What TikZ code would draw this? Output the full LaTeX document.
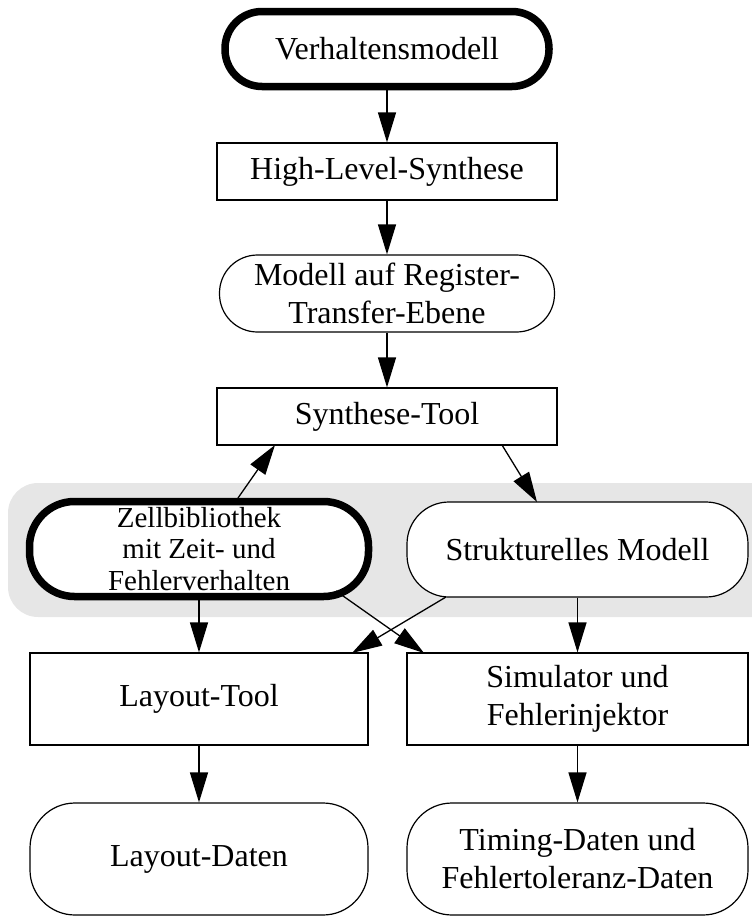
\documentclass[tikz,border=0pt]{standalone}
\usepackage{fontspec}
\setmainfont{Liberation Serif}
\usetikzlibrary{arrows.meta,calc}
\definecolor{bggray}{HTML}{E6E6E6}
\tikzset{
  base/.style={draw=black, fill=white, align=center, inner sep=0pt, font=\fontsize{32}{38}\selectfont},
  boxnode/.style={base, line width=1.2pt},
  term/.style={base, line width=1.2pt, rounded corners=#1},
  thickterm/.style={base, line width=7.5pt, rounded corners=#1},
  flow/.style={line width=1.3pt, -{Triangle[length=30pt,width=18pt]}}
}
\begin{document}
\begin{tikzpicture}[x=1pt,y=-1pt]
\useasboundingbox (0,0) rectangle (752,916);
\fill[bggray, rounded corners=30pt] (8,483) rectangle (785,617);

\node[thickterm=37pt, minimum width=324pt, minimum height=75pt] (V) at (387,49) {Verhaltensmodell};
\node[boxnode, minimum width=340pt, minimum height=57pt] (HLS) at (387,171.5) {High-Level-Synthese};
\node[term=38pt, minimum width=335pt, minimum height=77pt] (MRT) at (387,293.5) {Modell auf Register-\\Transfer-Ebene};
\node[boxnode, minimum width=340pt, minimum height=57pt] (ST) at (387,416.5) {Synthese-Tool};

\node[thickterm=45pt, minimum width=339pt, minimum height=95pt, font=\fontsize{29}{31.5}\selectfont] (ZB) at (199,549) {Zellbibliothek\\mit Zeit- und\\Fehlerverhalten};
\node[term=42pt, minimum width=341pt, minimum height=95pt] (SM) at (577.5,549.5) {Strukturelles Modell};

\node[boxnode, minimum width=338pt, minimum height=92pt] (LT) at (199,699) {Layout-Tool};
\node[boxnode, minimum width=341pt, minimum height=92pt] (SF) at (577.5,699) {Simulator und\\Fehlerinjektor};

\node[term=45pt, minimum width=338pt, minimum height=112pt] (LD) at (199,859) {Layout-Daten};
\node[term=45pt, minimum width=341pt, minimum height=112pt] (TD) at (577.5,859) {Timing-Daten und\\Fehlertoleranz-Daten};

\draw[flow] (V) -- (HLS);
\draw[flow] (HLS) -- (MRT);
\draw[flow] (MRT) -- (ST);
\coordinate (zbtop) at (238,498);
\coordinate (sttipl) at (275,445);
\draw[flow] (zbtop) -- (sttipl);
\coordinate (stbotr) at (502,445);
\coordinate (smtop) at (537,502);
\draw[flow] (stbotr) -- (smtop);
\draw[flow] (ZB.south) -- (LT.north);
\coordinate (zbbr) at (336,591);
\coordinate (sftl) at (424,653);
\draw[flow] (zbbr) -- (sftl);
\coordinate (smbl) at (446,597);
\coordinate (lttr) at (352,653);
\draw[flow] (smbl) -- (lttr);
\draw[flow] (SM.south) -- (SF.north);
\draw[flow] (LT) -- (LD);
\draw[flow] (SF) -- (TD);
\end{tikzpicture}
\end{document}
